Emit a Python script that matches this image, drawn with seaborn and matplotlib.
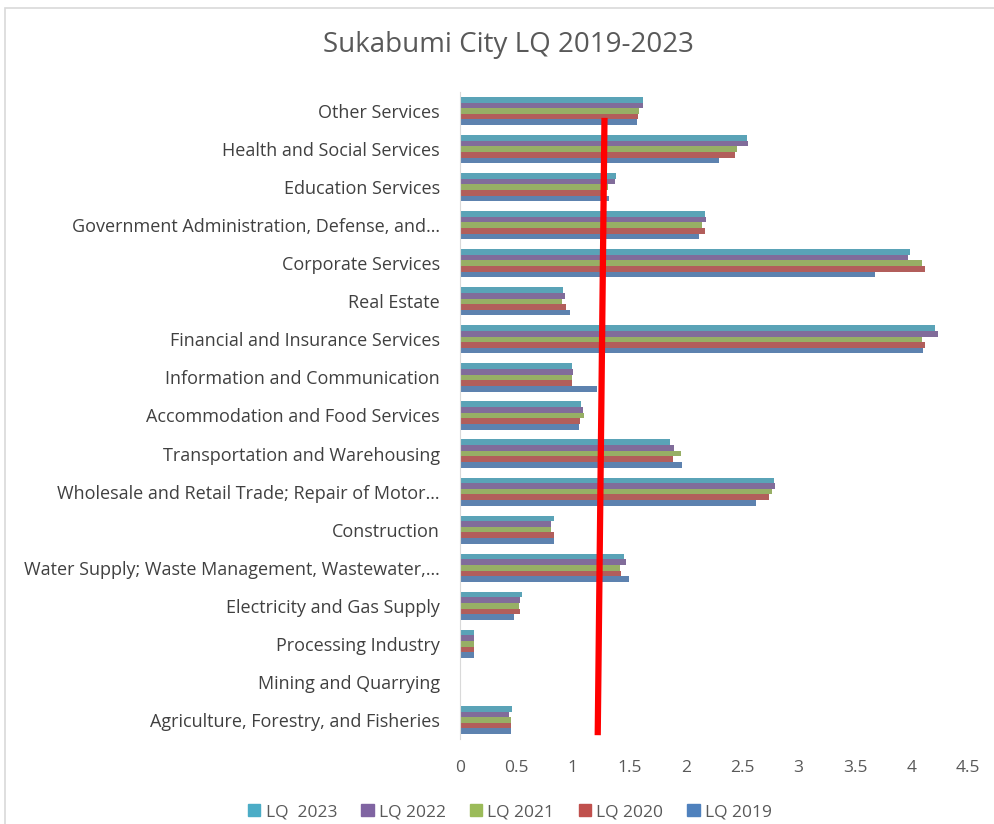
import matplotlib.pyplot as plt
import matplotlib.patches as mpatches
import pandas as pd
import seaborn as sns

categories = [
    "Other Services",
    "Health and Social Services",
    "Education Services",
    "Government Administration, Defense, and\u2026",
    "Corporate Services",
    "Real Estate",
    "Financial and Insurance Services",
    "Information and Communication",
    "Accommodation and Food Services",
    "Transportation and Warehousing",
    "Wholesale and Retail Trade; Repair of Motor\u2026",
    "Construction",
    "Water Supply; Waste Management, Wastewater,\u2026",
    "Electricity and Gas Supply",
    "Processing Industry",
    "Mining and Quarrying",
    "Agriculture, Forestry, and Fisheries",
]

series_names = ["LQ  2023", "LQ 2022", "LQ 2021", "LQ 2020", "LQ 2019"]

lq_2023 = [1.62, 2.54, 1.38, 2.17, 3.99, 0.91, 4.21, 0.99, 1.07, 1.86, 2.78, 0.83, 1.45, 0.55, 0.12, 0.0, 0.46]
lq_2022 = [1.62, 2.55, 1.37, 2.18, 3.97, 0.93, 4.23, 1.00, 1.09, 1.90, 2.79, 0.81, 1.47, 0.53, 0.12, 0.0, 0.43]
lq_2021 = [1.59, 2.45, 1.31, 2.14, 4.09, 0.90, 4.09, 0.99, 1.10, 1.96, 2.76, 0.81, 1.42, 0.52, 0.12, 0.0, 0.45]
lq_2020 = [1.58, 2.44, 1.25, 2.17, 4.12, 0.94, 4.12, 0.99, 1.06, 1.89, 2.74, 0.83, 1.43, 0.53, 0.12, 0.0, 0.45]
lq_2019 = [1.57, 2.29, 1.32, 2.12, 3.68, 0.97, 4.10, 1.21, 1.05, 1.97, 2.62, 0.83, 1.50, 0.48, 0.12, 0.0, 0.45]

colors = ["#4BACC6", "#8064A2", "#9BBB59", "#C0504D", "#4F81BD"]

x_ticks = [0, 0.5, 1, 1.5, 2, 2.5, 3, 3.5, 4, 4.5]
x_tick_labels = ["0", "0.5", "1", "1.5", "2", "2.5", "3", "3.5", "4", "4.5"]

# hand-drawn red reference line (x in LQ units, y in category positions)
ref_line_x = [1.28, 1.22]
ref_line_y = [0.18, 16.4]


def main():
    rows = []
    for name, vals in zip(series_names, [lq_2023, lq_2022, lq_2021, lq_2020, lq_2019]):
        for cat, v in zip(categories, vals):
            rows.append({"sector": cat, "series": name, "lq": v})
    df = pd.DataFrame(rows)

    sns.set_style("white")
    plt.rcParams["font.family"] = ["Open Sans", "DejaVu Sans"]

    fig = plt.figure(figsize=(9.95, 8.24), dpi=100)
    ax = fig.add_axes([460 / 995, 1 - 739 / 824, (968 - 460) / 995, (739 - 92) / 824])

    sns.barplot(
        data=df, x="lq", y="sector", hue="series",
        order=categories, hue_order=series_names,
        palette=colors, orient="h", width=0.74,
        edgecolor="none", errorbar=None, ax=ax,
    )

    ax.plot(ref_line_x, ref_line_y, color="#FF0000", lw=4.5, solid_capstyle="butt", zorder=5)

    ax.set_xlim(0, 4.5)
    ax.set_ylim(len(categories) - 0.5, -0.5)
    ax.set_xticks(x_ticks)
    ax.set_xticklabels(x_tick_labels)
    ax.set_xlabel("")
    ax.set_ylabel("")
    ax.tick_params(axis="x", length=0, pad=15, labelsize=12.5, labelcolor="#595959")
    ax.tick_params(axis="y", length=0, pad=14.5, labelsize=13, labelcolor="#404040")
    for side in ["top", "right", "bottom"]:
        ax.spines[side].set_visible(False)
    ax.spines["left"].set_color("#D9D9D9")
    ax.grid(False)

    ax.get_legend().remove()
    handles = [mpatches.Patch(color=c, label=n) for c, n in zip(colors, series_names)]
    fig.legend(
        handles=handles, loc="center", bbox_to_anchor=(510 / 995, 1 - 812 / 824),
        ncol=5, frameon=False, fontsize=12.5, handlelength=0.7, handleheight=0.7,
        handletextpad=0.3, columnspacing=1.4, labelcolor="#595959",
    )

    fig.text(508 / 995, 1 - 45 / 824, "Sukabumi City LQ 2019-2023",
             ha="center", va="center", fontsize=20, color="#595959")

    fig.patches.append(mpatches.Rectangle(
        (5 / 995, -0.01), 1.0, 1 - 8 / 824 + 0.01, transform=fig.transFigure,
        fill=False, edgecolor="#D9D9D9", lw=1.2))

    fig.savefig("out.png", dpi=100)
    plt.close(fig)


if __name__ == "__main__":
    main()
